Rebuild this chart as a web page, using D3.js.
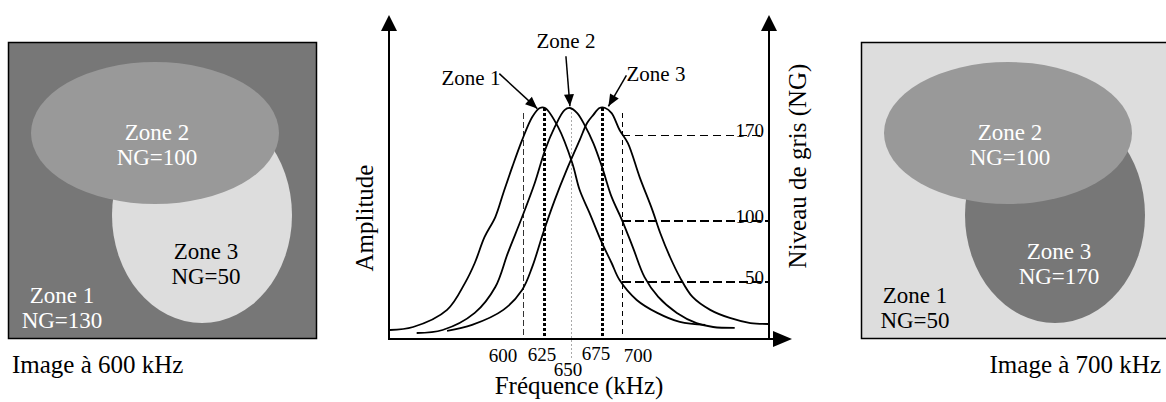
<!DOCTYPE html>
<html lang="fr">
<head>
<meta charset="utf-8">
<title>Zones et fréquence</title>
<script src="https://cdn.jsdelivr.net/npm/d3@7"></script>
<style>
  body { margin: 0; background: #fff; }
</style>
</head>
<body>
<div id="chart"></div>
<script>
// ---- data ----
var zoneNames = ["Zone 1", "Zone 2", "Zone 3"];
var ng600 = [130, 100, 50];
var ng700 = [50, 100, 170];
var captions = ["Image à 600 kHz", "Image à 700 kHz"];

var freqTicks = [600, 625, 650, 675, 700];
var ngTicks = [170, 100, 50];

// [frequency kHz, amplitude %]
var curveZone1 = [[451,3.9],[477,5.2],[515,12.6],[535,24.2],[546,32.9],[557,44.2],[569,52.8],[578,63.2],[588,74.5],[599,86.1],[611,96.1],[620,100],[626,100],[638,91.8],[651,76.2],[657,64.5],[665,54.5],[675,41.6],[687,32.9],[697,25.5],[715,16.9],[736,11.3],[759,7.4],[785,6.1]];
var curveZone2 = [[481,2.6],[510,3.9],[546,11.3],[569,22.5],[583,37.2],[599,52.8],[614,67.5],[626,81.8],[635,91.8],[644,99.1],[649,100],[655,97.8],[661,92.6],[668,84.8],[675,74.5],[687,61.5],[700,51.5],[711,39.8],[723,26.8],[737,18.2],[756,11.3],[776,6.9],[793,5.2],[815,4.8]];
var curveZone3 = [[515,3.5],[543,6.1],[578,12.6],[599,21.2],[611,31.2],[624,45.9],[635,60.2],[646,73.2],[657,86.1],[663,93.5],[668,97],[673,100],[679,100],[687,97.8],[697,90.5],[706,84.8],[718,70.1],[731,55.8],[739,45.9],[749,35.5],[759,26.8],[772,18.2],[790,12.6],[810,9.1],[831,6.9],[849,6.5]];
var curves = [curveZone1, curveZone2, curveZone3];

// ---- layout ----
var W = 1166, H = 402;

var svg = d3.select("#chart").append("svg")
  .attr("width", W).attr("height", H)
  .style("font-family", "'Liberation Serif', 'Times New Roman', 'DejaVu Serif', serif");

// image panels
function panel(x0, ngValues, fills, textFills, caption, captionAnchor, captionX) {
  var g = svg.append("g").attr("transform", "translate(" + x0 + ",0)");
  g.append("rect")
    .attr("x", 0.5).attr("y", 42.5).attr("width", 308).attr("height", 296)
    .attr("fill", fills[0]).attr("stroke", "#000").attr("stroke-width", 1.5);
  // zone 3 below zone 2
  g.append("ellipse")
    .attr("cx", 194).attr("cy", 215).attr("rx", 90).attr("ry", 108)
    .attr("fill", fills[2]);
  g.append("ellipse")
    .attr("cx", 147).attr("cy", 133).attr("rx", 124).attr("ry", 71)
    .attr("fill", fills[1]);

  var labelPos = [[54, 303], [149, 140], [198, 259]];
  zoneNames.forEach(function(name, i) {
    var t = g.append("text")
      .attr("text-anchor", "middle")
      .attr("font-size", "23px")
      .attr("fill", textFills[i]);
    t.append("tspan").attr("x", labelPos[i][0]).attr("y", labelPos[i][1]).text(name);
    t.append("tspan").attr("x", labelPos[i][0]).attr("y", labelPos[i][1] + 25).text("NG=" + ngValues[i]);
  });

  svg.append("text")
    .attr("x", captionX).attr("y", 373)
    .attr("text-anchor", captionAnchor)
    .attr("font-size", "25px")
    .attr("fill", "#000")
    .text(caption);
}

panel(8, ng600, ["#777777", "#999999", "#dddddd"], ["#fff", "#fff", "#000"], captions[0], "start", 12);
panel(861, ng700, ["#dddddd", "#999999", "#777777"], ["#000", "#fff", "#fff"], captions[1], "end", 1161);

// ---- spectrum chart ----
var plotLeft = 389, plotRight = 769, plotBottom = 339, plotTop = 15;

var x = d3.scaleLinear()
  .domain([450, 600, 625, 650, 675, 700, 850])
  .range([plotLeft, 523, 544, 571, 602, 622, plotRight]);
var y = d3.scaleLinear().domain([0, 100]).range([plotBottom, 108]);
var ng = d3.scaleLinear().domain([50, 170]).range([282, 135]);

var defs = svg.append("defs");
defs.append("marker")
  .attr("id", "head")
  .attr("viewBox", "0 0 12 10")
  .attr("refX", 12).attr("refY", 5)
  .attr("markerWidth", 13).attr("markerHeight", 10)
  .attr("markerUnits", "userSpaceOnUse")
  .attr("orient", "auto")
  .append("path").attr("d", "M0,0L12,5L0,10Z").attr("fill", "#000");

// vertical frequency markers
var markStyle = {
  600: {dash: "6,3", w: 1, c: "#333", top: 97.8, end: plotBottom},
  625: {dash: "3,2", w: 3, c: "#000", top: 100, end: plotBottom},
  650: {dash: "2,2", w: 1, c: "#aaa", top: 100, end: 358},
  675: {dash: "3,2", w: 3, c: "#000", top: 100, end: plotBottom},
  700: {dash: "5,4", w: 1, c: "#000", top: 98, end: plotBottom}
};
svg.append("g").attr("shape-rendering", "crispEdges").selectAll("line")
  .data(freqTicks)
  .enter().append("line")
  .attr("x1", function(d) { return x(d); })
  .attr("x2", function(d) { return x(d); })
  .attr("y1", function(d) { return y(markStyle[d].top); })
  .attr("y2", function(d) { return markStyle[d].end; })
  .attr("stroke", function(d) { return markStyle[d].c; })
  .attr("stroke-width", function(d) { return markStyle[d].w; })
  .attr("stroke-dasharray", function(d) { return markStyle[d].dash; });

// horizontal grey-level lines
svg.append("g").attr("shape-rendering", "crispEdges").selectAll("line")
  .data(ngTicks)
  .enter().append("line")
  .attr("x1", x(700))
  .attr("x2", function(d) { return d == 170 ? plotRight - 6 : plotRight; })
  .attr("y1", function(d) { return ng(d); })
  .attr("y2", function(d) { return ng(d); })
  .attr("stroke", "#000")
  .attr("stroke-width", function(d) { return d == 170 ? 1 : 2; })
  .attr("stroke-dasharray", function(d) { return d == 170 ? "8,5" : "9,4"; });

svg.append("g").selectAll("text")
  .data(ngTicks)
  .enter().append("text")
  .attr("x", plotRight - 5)
  .attr("y", function(d) { return ng(d) + 2; })
  .attr("text-anchor", "end")
  .attr("font-size", "19px")
  .text(function(d) { return d; });

// curves
var line = d3.line()
  .x(function(d) { return x(d[0]); })
  .y(function(d) { return y(d[1]); })
  .curve(d3.curveCatmullRom);

svg.append("g").selectAll("path")
  .data(curves)
  .enter().append("path")
  .attr("d", line)
  .attr("fill", "none")
  .attr("stroke", "#000")
  .attr("stroke-width", 1.8);

// axes
var axes = svg.append("g").attr("stroke", "#000").attr("stroke-width", 2);
axes.append("line").attr("x1", plotLeft).attr("x2", plotLeft).attr("y1", plotTop + 12).attr("y2", plotBottom + 1);
axes.append("line").attr("x1", plotRight).attr("x2", plotRight).attr("y1", plotTop + 12).attr("y2", plotBottom + 1);
axes.append("line").attr("x1", plotLeft - 1).attr("x2", plotRight + 12).attr("y1", plotBottom).attr("y2", plotBottom);

var heads = svg.append("g").attr("fill", "#000");
heads.append("path").attr("d", "M" + plotLeft + "," + plotTop + "l-8,16h16z");
heads.append("path").attr("d", "M" + plotRight + "," + plotTop + "l-8,16h16z");
heads.append("path").attr("d", "M" + (plotRight + 23) + "," + plotBottom + "l-19,-8v16z");

// frequency tick labels
var tickDx = {600: -20, 625: -2, 650: -3, 675: -6, 700: 16};
var tickY = {600: 362, 625: 361, 650: 376, 675: 360, 700: 362};
svg.append("g").selectAll("text")
  .data(freqTicks)
  .enter().append("text")
  .attr("x", function(d) { return x(d) + tickDx[d]; })
  .attr("y", function(d) { return tickY[d]; })
  .attr("text-anchor", "middle")
  .attr("font-size", "19px")
  .text(function(d) { return d; });

// axis titles
svg.append("text")
  .attr("x", 579).attr("y", 394)
  .attr("text-anchor", "middle")
  .attr("font-size", "25px")
  .text("Fréquence (kHz)");

svg.append("text")
  .attr("transform", "translate(373,218) rotate(-90)")
  .attr("text-anchor", "middle")
  .attr("font-size", "25px")
  .text("Amplitude");

svg.append("text")
  .attr("transform", "translate(806,166) rotate(-90)")
  .attr("text-anchor", "middle")
  .attr("font-size", "25px")
  .text("Niveau de gris (NG)");

// zone annotations with arrows
var notes = [
  {tip: [617, 98], from: [-38, -35], text: [471, 85]},
  {tip: [649, 99], from: [-4, -50], text: [566, 48]},
  {tip: [683, 99], from: [18, -31], text: [656, 81]}
];
notes.forEach(function(n, i) {
  var tx = x(n.tip[0]), ty = y(n.tip[1]) - 4;
  svg.append("line")
    .attr("x1", tx + n.from[0]).attr("y1", ty + n.from[1])
    .attr("x2", tx).attr("y2", ty)
    .attr("stroke", "#000").attr("stroke-width", 1.5)
    .attr("marker-end", "url(#head)");
  svg.append("text")
    .attr("x", n.text[0]).attr("y", n.text[1])
    .attr("text-anchor", "middle")
    .attr("font-size", "21px")
    .text(zoneNames[i]);
});
</script>
</body>
</html>
